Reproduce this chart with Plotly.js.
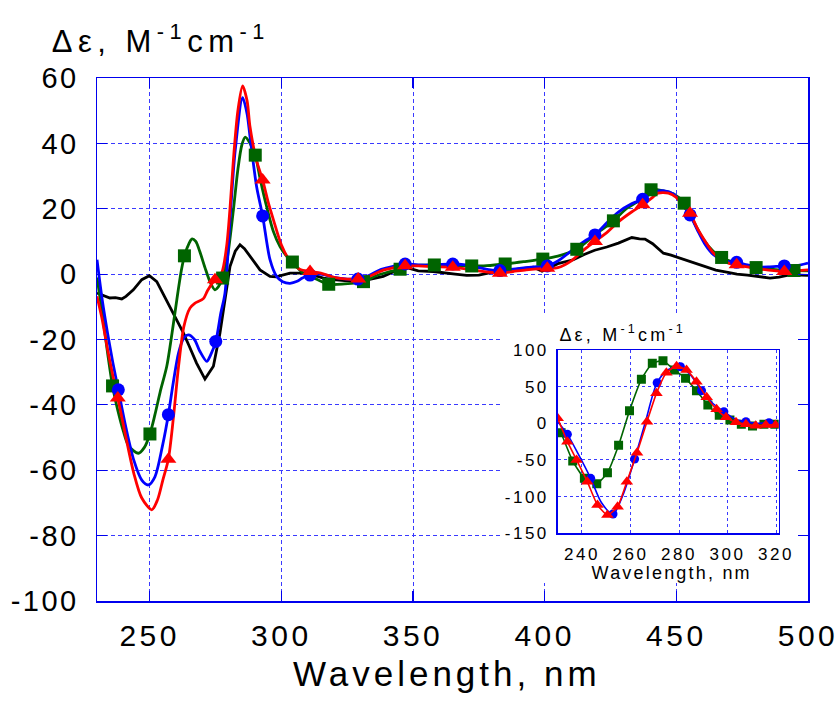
<!DOCTYPE html>
<html>
<head>
<meta charset="utf-8">
<script src="https://cdn.plot.ly/plotly-3.0.1.min.js"></script>
<style>
  html, body { margin: 0; padding: 0; background: #fff; }
  #chart { width: 837px; height: 701px; }
  .xtick text { letter-spacing: 3.5px; }
  .ytick text { letter-spacing: 2.5px; }
  .x3tick text { letter-spacing: 2.5px; }
  .y3tick text { letter-spacing: 2.5px; }
  .annotation[data-index="0"] text { letter-spacing: 5.5px; }
  .annotation[data-index="1"] text { letter-spacing: 4px; }
  .annotation[data-index="2"] text { letter-spacing: 3.2px; }
  .annotation[data-index="3"] text { letter-spacing: 2.2px; }
</style>
</head>
<body>
<div id="chart"></div>
<script>
// ---------- Main chart: tick labels ----------
const mainXTicks = [250, 300, 350, 400, 450, 500];
const mainYTicks = [-100, -80, -60, -40, -20, 0, 20, 40, 60];

// ---------- Main chart: black curve (no markers) ----------
const blackX = [230, 232, 234.9, 237, 239.4, 241, 243.8, 247, 249.9, 252.7, 256.4, 259, 262.8, 265, 267.8, 271, 274.2, 276.7, 278, 280.5, 282.5, 284.3, 286, 288.1, 291.9, 295.7, 298, 303.3, 309.6, 316, 319.7, 324, 330, 334, 338.7, 342, 345.1, 348, 352, 357.7, 362, 366, 370.4, 375, 379, 383, 388, 392, 395.7, 399, 405, 410.9, 415, 419, 423.6, 428, 433.1, 436, 438.1, 441, 445.1, 448, 451.4, 455, 458, 461.5, 465, 469.1, 473, 477, 481, 485.6, 489, 493, 497, 500];
const blackY = [-5.8, -6.5, -7.3, -7.2, -7.6, -6.8, -4.8, -1.7, -0.5, -2.3, -7.9, -12, -18, -22, -27.2, -32.1, -28.2, -18, -10.9, 2.3, 7, 9, 7.8, 5.4, 1.3, -0.7, -0.8, 0.3, 0.3, -1.2, -1.7, -2, -2, -1.5, -0.7, 0.5, 1.8, 1.9, 1.0, 0.8, 0.5, 0, -0.4, -0.3, 0.4, 0.8, 1.2, 1.8, 2.1, 0.9, 3.2, 4.4, 6, 7.3, 8.3, 9.5, 11.2, 10.8, 10.7, 9.3, 6.4, 5.8, 4.9, 3.8, 3.0, 2.3, 1.2, 0.6, 0, -0.3, -0.8, -1.2, -0.9, -0.2, -0.3, -0.4];

// ---------- Main chart: blue curve ----------
const blueX = [230, 232, 234, 236, 238.1, 241, 244, 247, 249.5, 252, 255, 257.1, 259, 261, 263, 264.7, 267, 269, 271.7, 273, 275.1, 277, 278.6, 280.5, 282.5, 285.3, 287, 288.1, 290.6, 292.9, 295.7, 298.2, 300.5, 303.3, 306, 308, 310.9, 315, 320, 325, 329, 333, 338, 343, 347, 352, 358, 365, 370, 375, 380, 383, 388, 393, 397, 401, 405, 410, 415, 419.1, 424, 428, 433, 437.2, 441, 445, 449, 452, 455.2, 458, 461, 464, 467, 470, 472.9, 477, 481, 485, 489, 491, 495, 500];
const blueY = [4.4, -8, -18, -27, -35.4, -47, -57, -63, -64.5, -62, -52, -43, -33, -24, -19.5, -18.6, -20, -23.5, -26.7, -25, -20.6, -12, -5.8, 16.6, 38, 54, 49, 42.1, 26.8, 17.8, 4.4, -0.7, -2.3, -2.8, -2.2, -1.2, -0.3, 0, -1, -1.5, -1.5, -0.5, 1.5, 2.5, 3.1, 2.8, 2.8, 3.1, 2.8, 2, 1.2, 1.1, 1.5, 2, 2.3, 2.5, 4, 7, 10, 12, 16, 19, 21.5, 22.9, 25, 25.5, 24.5, 21.5, 18.1, 13.5, 9, 6, 4.5, 3.8, 3.6, 2.8, 2.2, 2.2, 2.4, 2.5, 2.5, 3.4];
const blueMarkX = [238.1, 257.1, 275.1, 292.9, 310.9, 329.1, 347, 365.1, 383, 401, 419.1, 437.2, 455.2, 472.9, 491];
const blueMarkY = [-35.4, -43, -20.6, 17.8, -0.3, -1.5, 3.1, 3.1, 1.1, 2.5, 12.0, 22.9, 18.1, 3.6, 2.5];

// ---------- Main chart: red curve ----------
const redX = [230, 232, 234, 236, 237.9, 241, 244, 247, 250.8, 253, 255, 257.1, 259, 261, 263, 265.3, 267, 270.4, 272, 274.8, 277.3, 279.2, 280.5, 281.8, 283.5, 285.3, 287, 288.1, 290.5, 292.9, 295, 297, 300, 303.3, 307, 310.9, 315, 320, 325, 329.2, 334, 338, 343, 347, 352, 358, 365, 370, 375, 380, 383, 388, 393, 397, 401, 405, 410, 415, 419.1, 424, 428, 433, 437.2, 441, 443, 447, 450, 452, 455.2, 458, 461, 464, 467, 470, 472.9, 477, 481, 485, 489, 491, 495, 500];
const redY = [-6.8, -14, -23, -31, -37.9, -50, -61, -68.5, -72.1, -69, -63, -56.6, -44, -28, -16, -10.4, -9, -7.5, -5, -1.7, 0.3, 8.4, 20, 35, 50, 57.6, 53, 45.1, 35, 28.8, 22, 16.6, 9, 4, 1.5, 0.8, 0.3, -1, -1.5, -1.5, -0.5, 1, 2, 2.6, 2.5, 2.3, 2.1, 1.6, 1.0, 0.5, 0.3, 0.8, 1.3, 1.6, 1.8, 2, 4, 7.5, 10, 13, 16, 19, 21.2, 23.5, 24.8, 24.8, 23.5, 21.5, 18.6, 14, 10, 6.5, 4.5, 3.3, 2.9, 2.2, 1.6, 1.2, 0.9, 0.8, 1, 1.3];
const redMarkX = [237.9, 257.1, 274.8, 292.9, 310.9, 329.2, 347, 365.1, 383, 401, 419.1, 437.2, 455.2, 472.9, 491];
const redMarkY = [-37.9, -56.6, -1.7, 28.8, 0.8, -1.5, 2.6, 2.1, 0.3, 1.8, 10.0, 21.2, 18.6, 2.9, 0.8];

// ---------- Main chart: green curve ----------
const greenX = [230, 232, 234, 235.9, 238, 240, 242, 245.7, 248, 250.1, 252, 254, 256.5, 258.5, 260.3, 262, 263.2, 265, 266.1, 267.5, 269, 271, 273, 274.8, 276, 277.7, 279.5, 281.8, 283.5, 285, 286.3, 288.1, 290.1, 292, 294.4, 297, 299.5, 302, 304.2, 308, 312, 318, 324, 331.2, 336, 340, 345.1, 350, 358.1, 365, 372.3, 378, 385, 392, 399.3, 405, 412.2, 419, 426.1, 431, 435, 440.4, 445, 449, 453, 456, 460, 464, 467.2, 472, 476, 480.3, 486, 490, 494.7, 500];
const greenY = [-1, -12, -24, -34.2, -42, -48, -52.5, -54.8, -53, -48.9, -43, -36, -28.2, -18, -7.9, 1, 5.6, 9.5, 10.8, 10, 7, 2, -2.5, -4.8, -4, -1.2, 5, 19.7, 32, 39.5, 41.9, 40, 36.4, 29, 20.7, 13, 8.4, 5.5, 3.7, 0.5, -1, -3.1, -3, -2.3, -0.5, 0.5, 1.5, 2.5, 2.8, 2.6, 2.5, 2.6, 3.1, 3.8, 4.6, 5.5, 7.6, 12, 16.3, 20, 22, 25.8, 25.5, 24.5, 21.7, 17, 11, 7, 5.1, 3.5, 2.5, 2.0, 1.5, 1.2, 1.1, 1];
const greenMarkX = [235.9, 250.1, 263.2, 277.7, 290.1, 304.2, 318, 331.2, 345.1, 358.1, 372.3, 385, 399.3, 412.2, 426.1, 440.4, 453, 467.2, 480.3, 494.7];
const greenMarkY = [-34.2, -48.9, 5.6, -1.2, 36.4, 3.7, -3.1, -2.3, 1.5, 2.8, 2.5, 3.1, 4.6, 7.6, 16.3, 25.8, 21.7, 5.1, 2.0, 1.1];

// ---------- Inset: tick labels ----------
const insetXTicks = [240, 260, 280, 300, 320];
const insetYTicks = [-150, -100, -50, 0, 50, 100];

// ---------- Inset: series ----------
const insetGreenX = [231.4, 236.2, 241, 246.1, 250.5, 255.1, 259.6, 264.5, 269, 273.4, 278.1, 282.7, 287.2, 291.9, 296.6, 301, 305.7, 310.3, 315, 319.5];
const insetGreenY = [-12.8, -51.4, -75, -82.4, -67.4, -30, 17.2, 60, 81.8, 85.4, 72.7, 61.4, 44.5, 25, 10.9, 4.5, -1.4, -3.7, -1.4, -1.4];

const insetRedX = [230, 234, 237.8, 242.2, 246.4, 250.5, 254.7, 258.5, 262.7, 266.8, 270.7, 274.8, 279, 283.1, 287.2, 291.4, 295.5, 299.4, 303.5, 307.6, 311.6, 315.8, 319.8];
const insetRedY = [6.8, -25, -50, -79.6, -111.4, -125, -113.7, -79.6, -40, 2.2, 40.9, 69, 78, 72.7, 56.7, 35.4, 19.1, 8.2, 1.4, -1.4, -3.3, -2.2, -2.2];

const insetBlueLineX = [230, 234, 238.5, 243.6, 248, 252.8, 257, 261.7, 266, 271, 275.5, 280.6, 285, 289.3, 294, 298.5, 303, 307.6, 312, 317.1, 321];
const insetBlueLineY = [2, -15, -42, -75, -108, -124, -97, -48.7, 0, 55.4, 73, 77.2, 65, 44.5, 27, 15.9, 6, 2.2, 0, 0.8, 0];
const insetBlueMarkX = [234, 243.6, 252.8, 261.7, 271, 280.6, 289.3, 298.5, 307.6, 317.1];
const insetBlueMarkY = [-15, -75, -123.7, -48.7, 55.4, 77.2, 44.5, 15.9, 2.2, 0.8];

// ---------- Colours ----------
const BLUE = '#0000ff', RED = '#ff0000', GREEN = '#006400', BLACK = '#000000';
const AXIS = '#0000ee', GRID = '#3a3aff';

const traces = [
  {x: blackX, y: blackY, mode: 'lines', line: {color: BLACK, width: 2.8}, xaxis: 'x', yaxis: 'y', hoverinfo: 'skip'},
  {x: greenX, y: greenY, mode: 'lines', line: {color: GREEN, width: 2.8, shape: 'spline', smoothing: 0.8}, xaxis: 'x', yaxis: 'y'},
  {x: blueX, y: blueY, mode: 'lines', line: {color: BLUE, width: 2.8, shape: 'spline', smoothing: 0.8}, xaxis: 'x', yaxis: 'y'},
  {x: redX, y: redY, mode: 'lines', line: {color: RED, width: 2.8, shape: 'spline', smoothing: 0.8}, xaxis: 'x', yaxis: 'y'},
  {x: greenMarkX, y: greenMarkY, mode: 'markers', marker: {symbol: 'square', size: 13, color: GREEN}, xaxis: 'x', yaxis: 'y'},
  {x: blueMarkX, y: blueMarkY, mode: 'markers', marker: {symbol: 'circle', size: 13, color: BLUE}, xaxis: 'x', yaxis: 'y'},
  {x: redMarkX, y: redMarkY, mode: 'markers', marker: {symbol: 'triangle-up', size: 14, color: RED}, xaxis: 'x', yaxis: 'y'},
  {x: [], y: [], mode: 'markers', xaxis: 'x2', yaxis: 'y2', hoverinfo: 'skip'},
  {x: insetGreenX, y: insetGreenY, mode: 'lines+markers', line: {color: GREEN, width: 1.6, shape: 'spline', smoothing: 0.5}, marker: {symbol: 'square', size: 9, color: GREEN}, xaxis: 'x3', yaxis: 'y3'},
  {x: insetBlueLineX, y: insetBlueLineY, mode: 'lines', line: {color: BLUE, width: 1.6, shape: 'spline', smoothing: 0.8}, xaxis: 'x3', yaxis: 'y3'},
  {x: insetBlueMarkX, y: insetBlueMarkY, mode: 'markers', marker: {symbol: 'circle', size: 9, color: BLUE}, xaxis: 'x3', yaxis: 'y3'},
  {x: insetRedX, y: insetRedY, mode: 'lines+markers', line: {color: RED, width: 1.6, shape: 'spline', smoothing: 0.5}, marker: {symbol: 'triangle-up', size: 11, color: RED}, xaxis: 'x3', yaxis: 'y3'}
];

const FONT = 'Liberation Sans, Arial, sans-serif';

const layout = {
  width: 837, height: 701,
  margin: {l: 0, r: 0, t: 0, b: 0},
  paper_bgcolor: '#ffffff', plot_bgcolor: '#ffffff',
  showlegend: false,
  font: {family: FONT, color: '#000'},
  xaxis: {
    domain: [97/837, 808/837], range: [230, 500], anchor: 'y',
    tickvals: mainXTicks, ticktext: mainXTicks.map(String),
    showline: true, linecolor: AXIS, linewidth: 1.5, mirror: 'ticks',
    ticks: 'inside', ticklen: 10, tickcolor: AXIS, tickwidth: 1.2,
    showgrid: true, gridcolor: GRID, gridwidth: 1, griddash: '4px,3px',
    zeroline: false, tickfont: {size: 30, family: FONT, color: '#000'},
    ticklabelstandoff: 7, ticklabeloverflow: 'allow'
  },
  yaxis: {
    domain: [1 - 601/701, 1 - 78/701], range: [-100, 60], anchor: 'x',
    tickvals: mainYTicks, ticktext: mainYTicks.map(String),
    showline: true, linecolor: AXIS, linewidth: 1.5, mirror: 'ticks',
    ticks: 'inside', ticklen: 10, tickcolor: AXIS, tickwidth: 1.2,
    showgrid: true, gridcolor: GRID, gridwidth: 1, griddash: '4px,3px',
    zeroline: false, tickfont: {size: 29, family: FONT, color: '#000'},
    ticklabelstandoff: 11, ticklabeloverflow: 'allow'
  },
  xaxis2: {domain: [500/837, 798/837], anchor: 'y2', visible: false, range: [0, 1], fixedrange: true},
  yaxis2: {domain: [1 - 583/701, 1 - 315/701], anchor: 'x2', visible: false, range: [0, 1], fixedrange: true},
  xaxis3: {
    domain: [557.7/837, 778.7/837], range: [230, 321.1], anchor: 'y3',
    tickvals: insetXTicks, ticktext: insetXTicks.map(String),
    showline: true, linecolor: AXIS, linewidth: 1.5, mirror: true,
    ticks: '', showgrid: true, gridcolor: GRID, gridwidth: 1, griddash: '3px,3px',
    zeroline: false, tickfont: {size: 17, family: FONT, color: '#000'},
    ticklabelstandoff: 5, ticklabeloverflow: 'allow'
  },
  yaxis3: {
    domain: [1 - 533.3/701, 1 - 350/701], range: [-150, 100], anchor: 'x3',
    tickvals: insetYTicks, ticktext: insetYTicks.map(String),
    showline: true, linecolor: AXIS, linewidth: 1.5, mirror: true,
    ticks: '', showgrid: true, gridcolor: GRID, gridwidth: 1, griddash: '3px,3px',
    zeroline: false, tickfont: {size: 17, family: FONT, color: '#000'},
    ticklabelstandoff: 4, ticklabeloverflow: 'allow'
  },
  annotations: [
    {text: 'Δε, M<sup>-1</sup>cm<sup>-1</sup>', xref: 'paper', yref: 'paper', x: 80/837, y: 1 - 39/701,
     xanchor: 'left', yanchor: 'middle', showarrow: false, font: {size: 31, family: FONT, color: '#000'}},
    {text: 'Wavelength, nm', xref: 'paper', yref: 'paper', x: 447/837, y: 1 - 673/701,
     xanchor: 'center', yanchor: 'middle', showarrow: false, font: {size: 35, family: FONT, color: '#000'}},
    {text: 'Δε, M<sup>-1</sup>cm<sup>-1</sup>', xref: 'paper', yref: 'paper', x: 575/837, y: 1 - 333/701,
     xanchor: 'left', yanchor: 'middle', showarrow: false, font: {size: 18, family: FONT, color: '#000'}},
    {text: 'Wavelength, nm', xref: 'paper', yref: 'paper', x: 671/837, y: 1 - 573/701,
     xanchor: 'center', yanchor: 'middle', showarrow: false, font: {size: 18, family: FONT, color: '#000'}}
  ]
};

Plotly.newPlot('chart', traces, layout, {displayModeBar: false, staticPlot: true});
</script>
</body>
</html>
